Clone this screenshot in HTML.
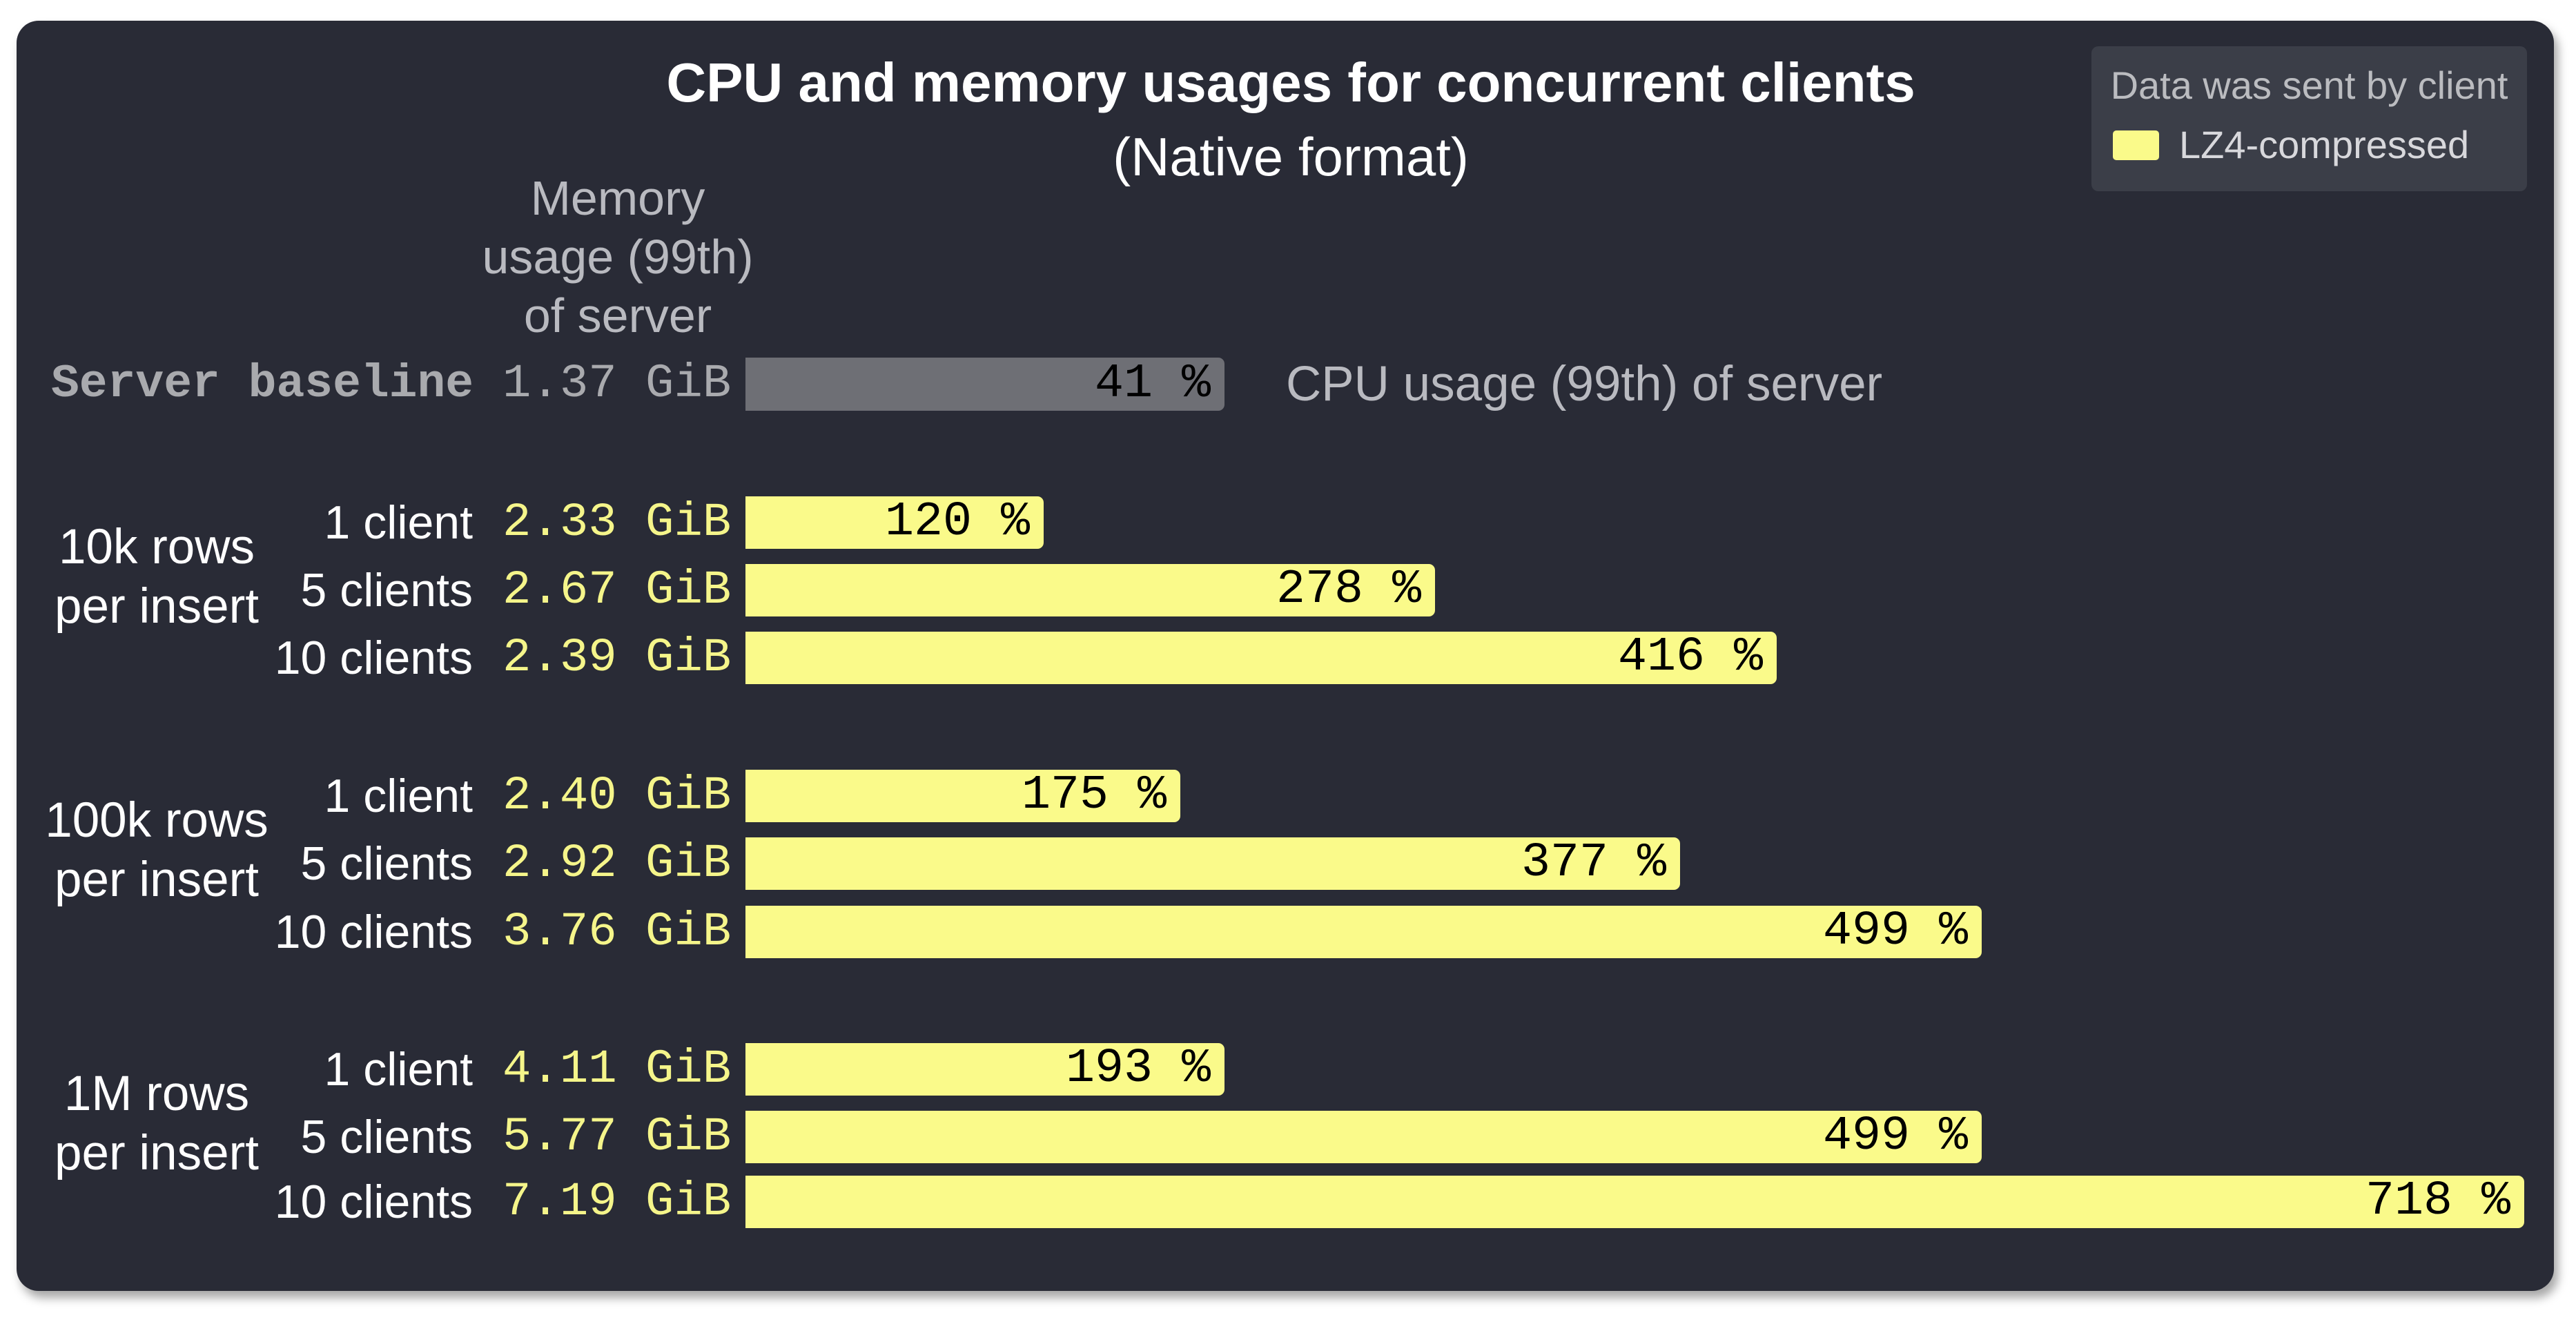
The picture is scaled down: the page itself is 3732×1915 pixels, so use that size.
<!DOCTYPE html>
<html><head><meta charset="utf-8"><style>
*{margin:0;padding:0;box-sizing:border-box}
body{width:3732px;height:1915px;background:#fff;position:relative;overflow:hidden;font-family:"Liberation Sans",sans-serif}
.card{position:absolute;left:24px;top:30px;width:3676px;height:1840px;background:#292b36;border-radius:32px;box-shadow:6px 10px 14px rgba(0,0,0,.35)}
.t{position:absolute;white-space:nowrap;line-height:1}
.mono{font-family:"Liberation Mono","DejaVu Sans Mono",monospace}
.bar{position:absolute;left:1080px;height:76px;background:#fafa8a;border-radius:0 9px 9px 0}
.bar span{position:absolute;right:20px;top:0;line-height:76px;font-family:"Liberation Mono",monospace;font-size:70px;color:#000}
.cl{position:absolute;right:3047px;width:400px;text-align:right;color:#fff;font-size:68px;line-height:76px}
.mem{position:absolute;left:728px;color:#f5f58a;font-family:"Liberation Mono",monospace;font-size:69px;line-height:76px}
.grp{position:absolute;left:27px;width:400px;text-align:center;color:#fff;font-size:71px;line-height:86px}
</style></head><body>
<div class="card"></div>
<div class="t" style="left:0;width:3740px;text-align:center;top:80px;font-size:80px;font-weight:bold;color:#fff">CPU and memory usages for concurrent clients</div>
<div class="t" style="left:0;width:3740px;text-align:center;top:188px;font-size:78px;color:#fff">(Native format)</div>

<div style="position:absolute;left:3030px;top:67px;width:631px;height:210px;background:#3b3e48;border-radius:10px"></div>
<div class="t" style="left:3040px;width:611px;text-align:center;top:96px;font-size:56px;color:#bbbcc0">Data was sent by client</div>
<div style="position:absolute;left:3061px;top:189px;width:67px;height:43px;background:#fafa8a;border-radius:5px"></div>
<div class="t" style="left:3157px;top:182px;font-size:56px;color:#d8d8dc">LZ4-compressed</div>

<div class="t" style="left:595px;width:600px;text-align:center;top:245px;font-size:70px;line-height:85px;color:#b9bac0;white-space:normal;font-weight:300">Memory<br>usage (99th)<br>of server</div>

<div class="t mono" style="left:74px;top:518px;line-height:77px;font-size:68px;font-weight:bold;color:#a9aaae">Server baseline</div>
<div class="t mono" style="left:728px;top:518px;line-height:77px;font-size:69px;color:#a9aaae">1.37 GiB</div>
<div class="bar" style="top:518px;width:694px;height:77px;background:#6e6f75"><span style="line-height:77px">41 %</span></div>
<div class="t" style="left:1863px;top:518px;line-height:77px;font-size:71px;color:#b9bac0">CPU usage (99th) of server</div>

<div class="grp" style="top:750px">10k rows<br>per insert</div>
<div class="grp" style="top:1146px">100k rows<br>per insert</div>
<div class="grp" style="top:1542px">1M rows<br>per insert</div>

<div class="cl" style="top:719px">1 client</div><div class="mem" style="top:719px">2.33 GiB</div><div class="bar" style="top:719px;width:432px"><span>120 %</span></div>
<div class="cl" style="top:817px">5 clients</div><div class="mem" style="top:817px">2.67 GiB</div><div class="bar" style="top:817px;width:999px"><span>278 %</span></div>
<div class="cl" style="top:915px">10 clients</div><div class="mem" style="top:915px">2.39 GiB</div><div class="bar" style="top:915px;width:1494px"><span>416 %</span></div>

<div class="cl" style="top:1115px">1 client</div><div class="mem" style="top:1115px">2.40 GiB</div><div class="bar" style="top:1115px;width:630px"><span>175 %</span></div>
<div class="cl" style="top:1213px">5 clients</div><div class="mem" style="top:1213px">2.92 GiB</div><div class="bar" style="top:1213px;width:1354px"><span>377 %</span></div>
<div class="cl" style="top:1312px">10 clients</div><div class="mem" style="top:1312px">3.76 GiB</div><div class="bar" style="top:1312px;width:1791px"><span>499 %</span></div>

<div class="cl" style="top:1511px">1 client</div><div class="mem" style="top:1511px">4.11 GiB</div><div class="bar" style="top:1511px;width:694px"><span>193 %</span></div>
<div class="cl" style="top:1609px">5 clients</div><div class="mem" style="top:1609px">5.77 GiB</div><div class="bar" style="top:1609px;width:1791px"><span>499 %</span></div>
<div class="cl" style="top:1703px">10 clients</div><div class="mem" style="top:1703px">7.19 GiB</div><div class="bar" style="top:1703px;width:2577px"><span>718 %</span></div>
</body></html>
